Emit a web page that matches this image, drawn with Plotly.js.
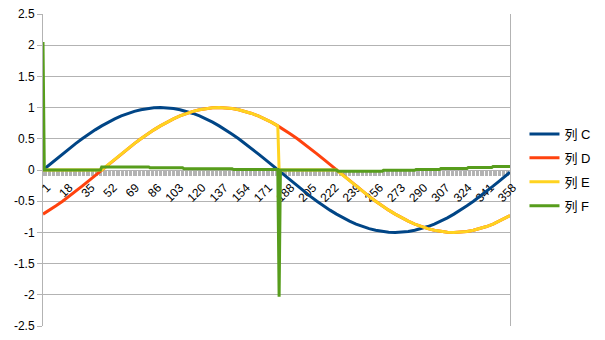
<!DOCTYPE html>
<html>
<head>
<meta charset="utf-8">
<script src="https://cdn.plot.ly/plotly-3.0.1.min.js"></script>
<style>html,body{margin:0;padding:0;background:#fff;}#chart{width:605px;height:340px;}</style>
</head>
<body>
<div id="chart"></div>
<script>
// category positions sampled every 5 categories (categories 1..359)
var sampleX = [1,6,11,16,21,26,31,36,41,46,51,56,61,66,71,76,81,86,91,96,101,106,111,116,121,126,131,136,141,146,151,156,161,166,171,176,181,186,191,196,201,206,211,216,221,226,231,236,241,246,251,256,261,266,271,276,281,286,291,296,301,306,311,316,321,326,331,336,341,346,351,356,359];

var seriesC = [0,.087,.174,.259,.342,.423,.5,.574,.643,.707,.766,.819,.866,.906,.940,.966,.985,.996,1,.996,.985,.966,.940,.906,.866,.819,.766,.707,.643,.574,.5,.423,.342,.259,.174,.087,0,
-.087,-.174,-.259,-.342,-.423,-.5,-.574,-.643,-.707,-.766,-.819,-.866,-.906,-.940,-.966,-.985,-.996,-1,-.996,-.985,-.966,-.940,-.906,-.866,-.819,-.766,-.707,-.643,-.574,-.5,-.423,-.342,-.259,-.174,-.087,-.035];

var seriesD = [-.707,-.643,-.574,-.5,-.423,-.342,-.259,-.174,-.087,0,.087,.174,.259,.342,.423,.5,.574,.643,.707,.766,.819,.866,.906,.940,.966,.985,.996,1,.996,.985,.966,.940,.906,.866,.819,.766,.707,.643,.574,.5,.423,.342,.259,.174,.087,0,
-.087,-.174,-.259,-.342,-.423,-.5,-.574,-.643,-.707,-.766,-.819,-.866,-.906,-.940,-.966,-.985,-.996,-1,-.996,-.985,-.966,-.940,-.906,-.866,-.819,-.766,-.731];

var seriesEX = [1,46,51,56,61,66,71,76,81,86,91,96,101,106,111,116,121,126,131,136,141,146,151,156,161,166,171,176,181,182,226,231,236,241,246,251,256,261,266,271,276,281,286,291,296,301,306,311,316,321,326,331,336,341,346,351,356,359];
var seriesE = [0,0,.087,.174,.259,.342,.423,.5,.574,.643,.707,.766,.819,.866,.906,.940,.966,.985,.996,1,.996,.985,.966,.940,.906,.866,.819,.766,.707,0,0,
-.087,-.174,-.259,-.342,-.423,-.5,-.574,-.643,-.707,-.766,-.819,-.866,-.906,-.940,-.966,-.985,-.996,-1,-.996,-.985,-.966,-.940,-.906,-.866,-.819,-.766,-.731];

var seriesFX = [1,2,45,46,82,83,108,109,146,147,181,182,183,226,227,261,262,286,287,305,306,326,327,345,346,359];
var seriesF = [2.05,0,0,0.05,0.05,0.035,0.035,0.02,0.02,0.008,0.008,-2.03,0,0,-0.02,-0.02,-0.005,-0.005,0.01,0.01,0.025,0.025,0.04,0.04,0.055,0.055];

var xTickVals = [1,18,35,52,69,86,103,120,137,154,171,188,205,222,239,256,273,290,307,324,341,358];
var xTickText = ["1","18","35","52","69","86","103","120","137","154","171","188","205","222","239","256","273","290","307","324","341","358"];
var yTickVals = [2.5,2,1.5,1,0.5,0,-0.5,-1,-1.5,-2,-2.5];
var yTickText = ["2.5","2","1.5","1","0.5","0","-0.5","-1","-1.5","-2","-2.5"];

var names = ["列 C","列 D","列 E","列 F"];
var colors = ["#004586","#ff420e","#ffd320","#579d1c"];

function tr(x, y, i) {
  return {x: x, y: y, type: "scatter", mode: "lines", name: names[i], legendgroup: "g" + i,
    line: {color: colors[i], width: 3, shape: "linear"}, hoverinfo: "skip"};
}

var data = [tr(sampleX, seriesC, 0), tr(sampleX, seriesD, 1), tr(seriesEX, seriesE, 2), tr(seriesFX, seriesF, 3)];

var font = "Liberation Sans, Arial, Noto Sans CJK SC, sans-serif";
var layout = {
  width: 605, height: 340,
  margin: {l: 43, r: 95, t: 14, b: 14, autoexpand: false},
  paper_bgcolor: "#fff", plot_bgcolor: "#fff",
  font: {family: font, size: 12, color: "#000"},
  showlegend: true,
  legend: {x: 1.031, xanchor: "left", y: 0.5, yanchor: "middle", font: {family: font, size: 13, color: "#000"},
    tracegroupgap: 4, bgcolor: "rgba(0,0,0,0)"},
  xaxis: {
    type: "linear", range: [1, 359], anchor: "free", position: 0.5,
    tickmode: "array", tickvals: xTickVals, ticktext: xTickText, tickangle: -45,
    ticklabelshift: 4,
    ticks: "outside", ticklen: 5, tickcolor: "#b3b3b3", tickwidth: 1,
    minor: {tickmode: "linear", tick0: 1, dtick: 1, ticks: "outside", ticklen: 5, tickcolor: "#b3b3b3", tickwidth: 1, showgrid: false},
    showgrid: false, zeroline: false, showline: true, linecolor: "#b3b3b3", linewidth: 1,
    layer: "below traces", automargin: false, fixedrange: true,
    tickfont: {family: font, size: 12, color: "#000"}
  },
  yaxis: {
    range: [-2.5, 2.5], tickmode: "array", tickvals: yTickVals, ticktext: yTickText,
    ticks: "outside", ticklen: 5, tickcolor: "#b3b3b3",
    showgrid: true, gridcolor: "#b3b3b3", gridwidth: 1, zeroline: false,
    showline: true, mirror: true, linecolor: "#b3b3b3", linewidth: 1,
    automargin: false, fixedrange: true, layer: "below traces",
    tickfont: {family: font, size: 12, color: "#000"}
  }
};

Plotly.newPlot("chart", data, layout, {staticPlot: true, displayModeBar: false});
</script>
</body>
</html>
